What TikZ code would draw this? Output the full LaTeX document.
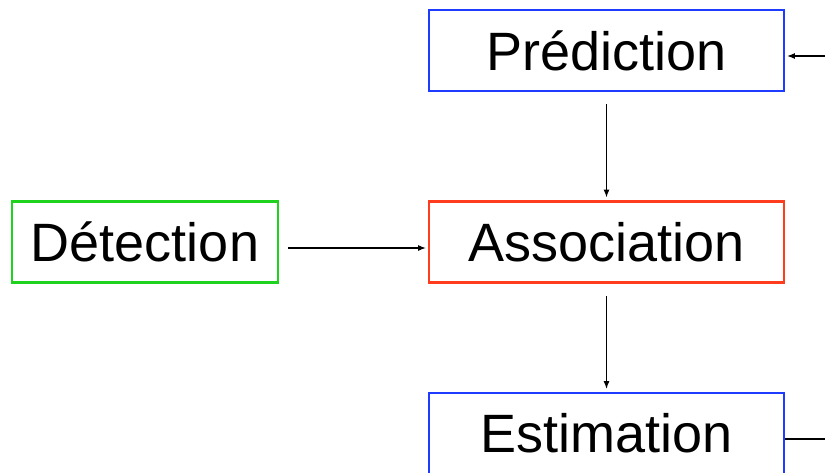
\documentclass[tikz,border=0pt]{standalone}
\usepackage{fontspec}
\setmainfont{Liberation Sans}
\usetikzlibrary{arrows.meta}
\definecolor{boxblue}{RGB}{30,60,255}
\definecolor{boxred}{RGB}{255,60,30}
\definecolor{boxgreen}{RGB}{30,210,30}
\begin{document}
\begin{tikzpicture}[x=1pt,y=-1pt,
        stage/.style={draw,line width=2.8pt,minimum width=355pt,minimum height=81pt,
          inner sep=0pt,font=\fontsize{54}{58}\selectfont},
        flow/.style={line width=1.3pt,-{Latex[length=8pt,width=6pt]}}]
        \useasboundingbox (0,0) rectangle (825,472);

        \node[stage,boxblue] (P) at (606.5,50.5) {\color{black}Prédiction};
        \node[stage,boxred] (A) at (606.5,242) {\color{black}Association};
        \node[stage,boxgreen,minimum width=266pt] (D) at (145,242) {\color{black}Détection};
        \node[stage,boxblue] (E) at (606.5,433.5) {\color{black}Estimation};

        \coordinate (in) at (825,56);
        \coordinate (out) at (825,439);

        \draw[flow,shorten <=12pt,shorten >=2.5pt] (P) to (A);
        \draw[flow,shorten <=12pt,shorten >=2.5pt] (A) to (E);
        \draw[flow,shorten <=9pt,shorten >=1.5pt] ([yshift=-6pt]D.east) to ([yshift=-6pt]A.west);
        \draw[flow,shorten >=1.5pt] (in) to (P.east |- in);
        \draw[line width=1.3pt] (E.east |- out) to (out);

      \end{tikzpicture}
\end{document}
